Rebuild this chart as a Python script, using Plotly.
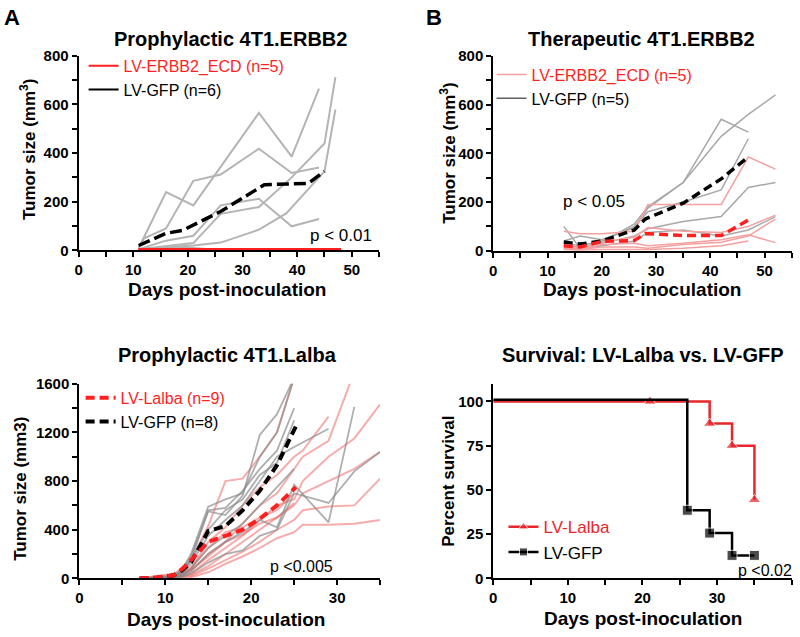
import plotly.graph_objects as go

# ---------------- data ----------------
# A: prophylactic 4T1.ERBB2 (individual mice + mean)
a_gfp_days = [
    [11, 16, 21, 33, 39, 44],
    [11, 12, 16, 21, 26, 33, 39, 44],
    [11, 21, 26, 33, 39, 45, 47],
    [11, 21, 26, 33, 38, 45, 47],
    [11, 16, 21, 26, 33, 39, 44],
    [11, 16, 21, 24],
]
a_gfp_vals = [
    [10, 240, 185, 565, 385, 665],
    [15, 50, 90, 286, 312, 418, 318, 341],
    [5, 30, 150, 178, 300, 439, 712],
    [5, 20, 32, 85, 152, 325, 579],
    [5, 40, 60, 185, 212, 99, 129],
    [5, 12, 10, 5],
]
a_gfp_mean_days = [11, 16, 19, 26, 34, 42, 45]
a_gfp_mean = [20, 70, 82, 160, 270, 275, 325]
a_ecd_days = [11, 16, 19, 21, 26, 33, 39, 44, 48]
a_ecd_vals = [
    [2, 3, 2, 3, 2, 3, 2, 3, 2],
    [1, 2, 3, 2, 3, 2, 3, 2, 3],
    [3, 2, 2, 1, 2, 2, 1, 2, 2],
    [2, 1, 3, 2, 1, 3, 2, 1, 2],
    [1, 3, 1, 3, 3, 1, 3, 3, 1],
]
a_ecd_mean = [2, 2, 2, 2, 2, 2, 2, 2, 2]

# B: therapeutic 4T1.ERBB2
b_days = [13, 16, 20, 26, 28.5, 35, 42, 47, 52]
b_gfp_vals = [
    [100, 10, 35, 110, 180, 280, 540, 487, None],
    [40, 60, 45, 95, 175, 280, 470, 560, 640],
    [30, 20, 40, 100, 160, 200, 250, 460, None],
    [20, 15, 30, 60, 90, 120, 140, 260, 280],
    [10, 5, 20, 40, 75, 85, 60, 85, 140],
]
b_ecd_vals = [
    [80, 70, 70, 80, 190, 190, 190, 385, 335],
    [25, 10, 35, 55, 95, 80, 75, 100, 146],
    [15, 5, 25, 30, 20, 30, 45, 65, 33],
    [10, 5, 15, 15, 10, 25, 35, 60, 130],
    [5, 2, 5, 5, 5, 10, 20, 40, None],
]
b_mean_days = [13, 16, 20, 26, 28, 35, 42, 47]
b_gfp_mean = [36, 27, 40, 85, 130, 195, 295, 385]
b_ecd_mean = [20, 15, 38, 42, 70, 62, 62, 126]

# C: prophylactic 4T1.Lalba
c_days = [7, 9, 11, 12, 13, 15, 17, 19, 21, 23, 25, 26, 29, 32, 35]
c_gfp_vals = [
    [0, 5, 20, 80, 200, 590, 650, 700, 1000, 1200, 1650, None, None, None, None],
    [0, 5, 20, 70, 180, 550, 520, 680, 1180, 1350, 1650, None, None, None, None],
    [0, 5, 15, 50, 150, 560, 580, 720, 900, 1050, 1400, None, None, None, None],
    [0, 5, 10, 40, 120, 350, 480, 600, 800, 1000, 1080, None, 1230, None, None],
    [0, 0, 5, 20, 60, 200, 300, 380, 480, 420, 770, None, 460, 1410, None],
    [0, 0, 5, 15, 40, 130, 200, 230, 350, 400, 700, None, 620, 880, 1040],
    [0, 5, 15, 60, 150, 400, 560, 650, 850, 950, 1300, None, None, None, None],
    [0, 0, 10, 30, 80, 250, 350, 450, 600, 750, 900, None, None, None, None],
]
c_lalba_vals = [
    [0, 20, 40, 80, 150, 430, 800, 820, 1000, 1200, 1650, None, None, None, None],
    [0, 10, 30, 50, 80, 300, 420, 600, 750, 850, 1000, 1050, 1330, None, None],
    [0, 10, 20, 40, 60, 200, 300, 450, 600, 700, 900, 1000, 1130, 1700, None],
    [0, 5, 15, 25, 40, 150, 250, 350, 480, 600, 650, 800, 1000, 1150, 1430],
    [0, 5, 10, 20, 30, 100, 200, 300, 400, 500, 600, 700, 800, 900, 1040],
    [0, 5, 10, 15, 20, 80, 150, 220, 300, 400, 480, 560, 590, 600, 820],
    [0, 0, 5, 8, 10, 50, 120, 180, 250, 330, 380, 440, 440, 450, 480],
    [0, 5, 15, 40, 90, 250, 380, 420, 500, 560, 700, None, None, None, None],
    [0, 5, 10, 30, 70, 180, 300, 360, 450, 500, 620, None, None, None, None],
]
c_mean_days = [7, 9, 11, 12, 13, 15, 17, 19, 21, 23, 25.2]
c_gfp_mean = [0, 5, 25, 70, 130, 390, 430, 560, 720, 930, 1250]
c_lalba_mean = [0, 8, 25, 80, 150, 300, 350, 400, 490, 600, 750]

# D: survival
d_lalba_days = [0, 21, 29, 32, 35]
d_lalba_surv = [100, 100, 87.5, 75, 44.4]
d_gfp_days = [0, 26, 29, 32, 35]
d_gfp_surv = [101, 38.5, 25.6, 13, 13]

RED = "#ff1f1f"
PINK = "rgba(238,70,70,0.45)"
GRAY = "rgba(140,140,140,0.7)"
FONT = "Arial, Liberation Sans, sans-serif"

fig = go.Figure()

def add_line(x, y, xa, ya, color, width, dash="solid", legend=None, name=None, show=False):
    fig.add_trace(go.Scatter(x=x, y=y, mode="lines", xaxis=xa, yaxis=ya,
                             line=dict(color=color, width=width, dash=dash),
                             showlegend=show, name=name, legend=legend,
                             connectgaps=True, hoverinfo="skip"))

# ---- A ----
for d, v in zip(a_gfp_days, a_gfp_vals):
    add_line(d, v, "x", "y", "#b4b4b4", 2)
add_line(a_gfp_mean_days, a_gfp_mean, "x", "y", "black", 3.5, "12px,5px")
for v in a_ecd_vals:
    add_line(a_ecd_days, v, "x", "y", RED, 3)
add_line(a_ecd_days, a_ecd_mean, "x", "y", RED, 3.5, "12px,5px")
add_line([None], [None], "x", "y", RED, 2, legend="legend", show=True,
         name="<span style='color:#ff1f1f'>LV-ERBB2_ECD (n=5)</span>")
add_line([None], [None], "x", "y", "black", 2, legend="legend", show=True, name="LV-GFP (n=6)")

# ---- B ----
for v in b_gfp_vals:
    add_line(b_days, v, "x2", "y2", "#a8a8a8", 1.5)
for v in b_ecd_vals:
    add_line(b_days, v, "x2", "y2", "#f4a0a0", 1.5)
add_line(b_mean_days, b_gfp_mean, "x2", "y2", "black", 3.5, "9px,5px")
add_line(b_mean_days, b_ecd_mean, "x2", "y2", RED, 3.5, "9px,5px")
add_line([None], [None], "x2", "y2", "#f4a0a0", 1.5, legend="legend2", show=True,
         name="<span style='color:#ff1f1f'>LV-ERBB2_ECD (n=5)</span>")
add_line([None], [None], "x2", "y2", "#606060", 1.5, legend="legend2", show=True, name="LV-GFP (n=5)")

# ---- C ----
for v in c_lalba_vals:
    add_line(c_days, v, "x3", "y3", PINK, 2)
for v in c_gfp_vals:
    add_line(c_days, v, "x3", "y3", GRAY, 1.8)
add_line(c_mean_days, c_gfp_mean, "x3", "y3", "black", 4, "9px,5px")
add_line(c_mean_days, c_lalba_mean, "x3", "y3", RED, 4, "9px,5px")
add_line([None], [None], "x3", "y3", RED, 4, "9px,5px", legend="legend3", show=True,
         name="<span style='color:#ff1f1f'>LV-Lalba (n=9)</span>")
add_line([None], [None], "x3", "y3", "black", 4, "9px,5px", legend="legend3", show=True,
         name="LV-GFP (n=8)")

# ---- D ----
fig.add_trace(go.Scatter(x=d_lalba_days, y=d_lalba_surv, mode="lines+markers", xaxis="x4", yaxis="y4",
                         line=dict(color="#e8262b", width=2.5, shape="hv"),
                         marker=dict(symbol="triangle-up", size=[0, 11, 11, 11, 11], color="#e8262b"),
                         name="<span style='color:#e8262b'>LV-Lalba</span>", legend="legend4",
                         hoverinfo="skip"))
fig.add_trace(go.Scatter(x=d_gfp_days, y=d_gfp_surv, mode="lines+markers", xaxis="x4", yaxis="y4",
                         line=dict(color="black", width=2.5, shape="hv"),
                         marker=dict(symbol="square", size=[0, 10, 10, 10, 10], color="black"),
                         name="LV-GFP", legend="legend4", hoverinfo="skip"))

# ---------------- layout ----------------
W, H = 800, 637
def px(x):
    return x / W
def py(y):
    return 1 - y / H

def axis(dom, rng, dtick, minor, **kw):
    d = dict(domain=dom, range=rng, dtick=dtick, tick0=0, showline=True, linewidth=2,
             linecolor="black", ticks="outside", ticklen=5, tickwidth=2, tickcolor="black",
             showgrid=False, zeroline=False, fixedrange=True,
             tickfont=dict(family=FONT, size=15, color="black", weight="bold"))
    if minor:
        d["minor"] = dict(dtick=minor, tick0=0, ticks="outside", ticklen=5, tickwidth=2,
                          tickcolor="black", showgrid=False)
    d.update(kw)
    return d

fig.update_layout(
    width=W, height=H, margin=dict(l=0, r=0, t=0, b=0),
    plot_bgcolor="white", paper_bgcolor="white",
    font=dict(family=FONT, color="black"),
    xaxis=axis([px(75), px(377)], [0, 55], 10, 5, anchor="y"),
    yaxis=axis([py(248), py(48)], [0, 800], 200, 100, anchor="x"),
    xaxis2=axis([px(491.7), px(791.7)], [0, 55], 10, 5, anchor="y2"),
    yaxis2=axis([py(248.3), py(48.3)], [0, 800], 200, 100, anchor="x2"),
    xaxis3=axis([px(75.7), px(378)], [0, 35], 10, 5, anchor="y3"),
    yaxis3=axis([py(585), py(385)], [0, 1600], 400, 200, anchor="x3"),
    xaxis4=axis([px(491.7), px(791.7)], [0, 40], 10, 5, anchor="y4"),
    yaxis4=axis([py(585), py(385)], [0, 110], 25, None, anchor="x4"),
    legend=dict(x=px(80), y=py(41), xanchor="left", yanchor="top", bgcolor="rgba(0,0,0,0)",
                font=dict(size=16, family=FONT, color="black"), tracegroupgap=0),
    legend2=dict(x=px(490), y=py(50), xanchor="left", yanchor="top", bgcolor="rgba(0,0,0,0)",
                 font=dict(size=16, family=FONT, color="black")),
    legend3=dict(x=px(77), y=py(382), xanchor="left", yanchor="top", bgcolor="rgba(0,0,0,0)",
                 font=dict(size=16, family=FONT, color="black")),
    legend4=dict(x=px(502), y=py(514), xanchor="left", yanchor="top", bgcolor="rgba(0,0,0,0)",
                 font=dict(size=17, family=FONT, color="black")),
)

ann = []
def text(x, y, s, size, bold=False, angle=0):
    ann.append(dict(x=px(x), y=py(y), xref="paper", yref="paper", text=s, showarrow=False,
                    xanchor="center", yanchor="middle", textangle=angle,
                    font=dict(family=FONT, size=size, color="black", weight="bold" if bold else "normal")))

text(8, 9, "A", 22, True)
text(432, 9, "B", 22, True)
text(228, 31, "Prophylactic 4T1.ERBB2", 20, True)
text(641, 31, "Therapeutic 4T1.ERBB2", 20, True)
text(225, 356, "Prophylactic 4T1.Lalba", 20, True)
text(642, 355, "Survival: LV-Lalba vs. LV-GFP", 20, True)
for x, y in [(224, 288), (641, 288), (223, 627), (642, 626)]:
    text(x, y, "Days post-inoculation", 19, True)
text(24, 144, "Tumor size (mm<sup>3</sup>)", 17, True, -90)
text(446, 148, "Tumor size (mm<sup>3</sup>)", 17, True, -90)
text(17, 493, "Tumor size (mm3)", 17, True, -90)
text(446, 485, "Percent survival", 17, True, -90)
text(339, 233, "p < 0.01", 17)
text(593, 198, "p < 0.05", 17)
text(299, 573, "p <0.005", 16)
text(765, 577, "p <0.02", 16)
fig.update_layout(annotations=ann)

# drop the default 8px page margin so the 800x637 figure fills the window
fig.write_html("out.html", config={"displayModeBar": False},
               post_script="document.body.style.margin='0';")
